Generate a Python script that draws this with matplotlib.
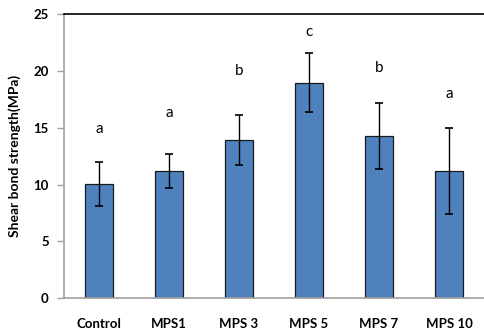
import numpy as np
import matplotlib.pyplot as plt

categories = ['Control', 'MPS1', 'MPS 3', 'MPS 5', 'MPS 7', 'MPS 10']
means = [10.05, 11.2, 13.9, 18.95, 14.3, 11.2]
errors = [1.9, 1.5, 2.2, 2.6, 2.9, 3.8]
letters = ['a', 'a', 'b', 'c', 'b', 'a']
letter_y = [14.9, 16.3, 20.0, 23.4, 20.3, 18.0]

plt.rcParams['font.family'] = ['Lato', 'DejaVu Sans']

fig = plt.figure(figsize=(4.84, 3.29), dpi=100)
ax = fig.add_axes([0.132, 0.094, 0.868, 0.863])

x = np.arange(len(categories))
ax.bar(x, means, width=0.4, color='#4F81BD', edgecolor='#1a1a1a', linewidth=0.9,
       yerr=errors, capsize=2.7, error_kw=dict(ecolor='black', elinewidth=1.0, capthick=1.2))

for xi, lab, ly in zip(x, letters, letter_y):
    ax.text(xi, ly, lab, ha='center', va='center', fontsize=11, color='black')

ax.set_xlim(-0.5, 5.5)
ax.set_ylim(0, 25)
ax.set_yticks([0, 5, 10, 15, 20, 25])
ax.set_xticks(x)
ax.set_xticklabels(categories, fontweight='bold', fontsize=9.5)
for t in ax.get_yticklabels():
    t.set_fontweight('bold')
    t.set_fontsize(9.5)
ax.tick_params(axis='x', length=0, pad=14)
ax.tick_params(axis='y', length=5, color='#A0A0A0', width=1, pad=6)

ax.spines['left'].set_color('#A0A0A0')
ax.spines['bottom'].set_color('#A0A0A0')
ax.spines['left'].set_linewidth(1.2)
ax.spines['bottom'].set_linewidth(1.2)
ax.spines['top'].set_color('black')
ax.spines['top'].set_linewidth(1.2)
ax.spines['right'].set_visible(False)

ax.set_ylabel('Shear bond strength(MPa)', fontweight='bold', fontsize=10, labelpad=9)

fig.savefig('out.png', dpi=100)
